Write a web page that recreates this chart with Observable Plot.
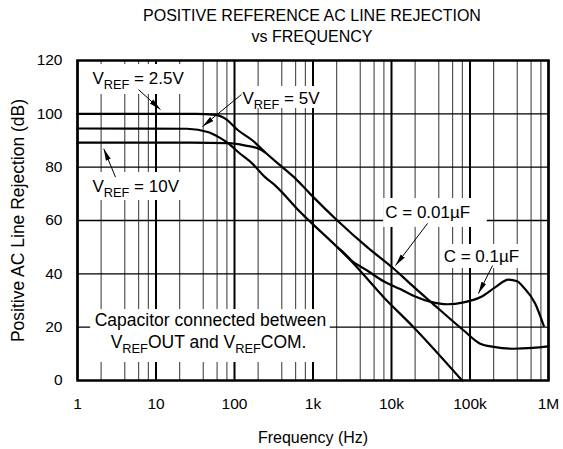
<!DOCTYPE html>
<html><head><meta charset="utf-8">
<script src="https://cdn.jsdelivr.net/npm/d3@7"></script>
<script src="https://cdn.jsdelivr.net/npm/@observablehq/plot@0.6"></script>
<style>
html,body{margin:0;padding:0;background:#fff;}
#title{width:563px;height:45px;box-sizing:border-box;padding-top:5px;padding-left:61px;text-align:center;font-family:"Liberation Sans",Arial,sans-serif;font-size:16px;line-height:21px;color:#000;white-space:nowrap;}
#chart svg{display:block;}
</style></head><body>
<div id="title">POSITIVE REFERENCE AC LINE REJECTION<br>vs FREQUENCY</div>
<div id="chart"></div>
<script>
// ---- data (frequency in Hz, rejection in dB) ----
// VREF = 2.5V curve, continuing as the C = 0.01µF curve
const freqA = [1, 32, 58, 77, 112, 170, 245, 407, 603, 933, 2040, 4900, 10700, 17400, 31600, 83200, 135000, 200000, 355000, 631000, 1000000];
const dbA   = [100, 100, 99.6, 98.1, 93.75, 90, 85.6, 80, 75.6, 69.8, 60, 50, 41.9, 36.25, 29.5, 18.75, 13.8, 12.6, 11.9, 12.2, 12.8];
// VREF = 5V curve, continuing as the straight roll-off to 0 dB
const freqB = [1, 25, 47, 63, 85, 112, 170, 245, 331, 692, 933, 2040, 3020, 7940, 19100, 79400];
const dbB   = [94.5, 94.4, 93.1, 91.25, 88.75, 85.6, 81.25, 76.25, 73.1, 63.1, 59.4, 50, 45, 31.25, 20, 0];
// VREF = 10V curve (joins the 2.5V curve)
const freqC = [1, 28, 85, 138, 204, 245];
const dbC   = [89.2, 89.2, 89.0, 88.1, 86.9, 85.6];
// C = 0.1µF curve (branches from the 5V roll-off)
const freqD = [2040, 2510, 3020, 4900, 7940, 12900, 20000, 31600, 51300, 83200, 135000, 209000, 309000, 398000, 479000, 676000, 871000];
const dbD   = [50, 47.7, 45.3, 41.25, 37.2, 34.3, 31.5, 29.5, 28.6, 29.3, 31.2, 34.9, 37.8, 37.2, 35.0, 28.9, 20.5];

// axes
const majorTicks = [1, 10, 100, 1000, 10000, 100000, 1000000];
const xTickLabels = ["1", "10", "100", "1k", "10k", "100k", "1M"];
const minorTicks = [2,4,6,8, 20,40,60,80, 200,400,600,800, 2000,4000,6000,8000, 20000,40000,60000,80000, 200000,400000,600000,800000];
const yTicks = [0, 20, 40, 60, 80, 100, 120];
const yGrid = [20, 40, 60, 80, 100];

// annotations
const labelText = ["V_REF = 2.5V", "V_REF = 5V", "V_REF = 10V", "C = 0.01µF", "C = 0.1µF"];
const labelX    = [1.55, 126, 1.55, 8320, 46200];
const labelY    = [113.25, 105.6, 72.75, 62.8, 46.5];
const noteText  = ["Capacitor connected between", "V_REFOUT and V_REFCOM."];
const noteX     = [49.4, 46.7];
const noteY     = [22.6, 14.4];
// white label backgrounds
const boxX1 = [1.30, 109.6, 1.30, 7940, 43600, 1.47];
const boxX2 = [27.5, 1175, 27.5, 166000, 479000, 1660];
const boxY1 = [107.25, 102, 67.5, 57.4, 42, 6.75];
const boxY2 = [118.5, 110.25, 78, 68.25, 51, 26.6];
// arrows: tail -> tip
const arrX1 = [5.98, 122.7, 3.05, 28800, 194000];
const arrY1 = [109.1, 107.25, 76.25, 58.9, 43.1];
const arrX2 = [11.4, 39.1, 2.16, 11250, 128000];
const arrY2 = [101.6, 95.25, 86.9, 43.1, 32.6];

const font = "Liberation Sans, Arial, sans-serif";

const chart = Plot.plot({
  width: 563,
  height: 404,
  marginLeft: 77,
  marginRight: 15,
  marginTop: 15,
  marginBottom: 69,
  style: {fontFamily: font, fontSize: "15.5px", color: "#000", background: "#fff", overflow: "visible"},
  x: {type: "log", domain: [1, 1000000], axis: null},
  y: {domain: [0, 120], axis: null},
  marks: [
    Plot.ruleX(minorTicks, {stroke: "#555", strokeWidth: 1.2}),
    Plot.ruleX(majorTicks, {stroke: "#000", strokeWidth: 2}),
    Plot.ruleY(yGrid, {stroke: "#000", strokeWidth: 1.3}),
    Plot.rect(boxX1, {x1: boxX1, x2: boxX2, y1: boxY1, y2: boxY2, fill: "#fff"}),
    Plot.line(dbA, {x: freqA, y: dbA, curve: "monotone-x", stroke: "#000", strokeWidth: 2.2}),
    Plot.line(dbB, {x: freqB, y: dbB, curve: "monotone-x", stroke: "#000", strokeWidth: 2.2}),
    Plot.line(dbC, {x: freqC, y: dbC, curve: "monotone-x", stroke: "#000", strokeWidth: 2.2}),
    Plot.line(dbD, {x: freqD, y: dbD, curve: "monotone-x", stroke: "#000", strokeWidth: 2.2}),
    Plot.link(arrX1, {x1: arrX1, y1: arrY1, x2: arrX2, y2: arrY2, stroke: "#000", strokeWidth: 1, markerEnd: "arrow"}),
    Plot.text(labelText, {x: labelX, y: labelY, text: d => d, textAnchor: "start", fontSize: 17, fill: "#000"}),
    Plot.text(noteText, {x: noteX, y: noteY, text: d => d, textAnchor: "middle", fontSize: 17.5, fill: "#000"}),
    Plot.axisX({ticks: majorTicks, tickFormat: (d) => xTickLabels[majorTicks.indexOf(d)], tickSize: 0, tickPadding: 17, label: null, fontSize: 15.5}),
    Plot.axisY({ticks: yTicks, tickSize: 0, tickPadding: 15, label: null, fontSize: 15.5}),
    Plot.text(["Frequency (Hz)"], {frameAnchor: "bottom", textAnchor: "middle", lineAnchor: "middle", dy: 57, fontSize: 16, fill: "#000"}),
    Plot.text(["Positive AC Line Rejection (dB)"], {frameAnchor: "left", textAnchor: "middle", lineAnchor: "middle", dx: -59, rotate: -90, fontSize: 17.5, fill: "#000"}),
    Plot.frame({stroke: "#000", strokeWidth: 2.5})
  ]
});

document.getElementById("chart").appendChild(chart);

// subscripts "REF"
const ns = "http://www.w3.org/2000/svg";
chart.querySelectorAll("text").forEach(t => {
  const s = t.textContent;
  if (!s.includes("_REF")) return;
  const parts = s.split("_REF");
  t.textContent = "";
  parts.forEach((p, i) => {
    if (i > 0) {
      const sub = document.createElementNS(ns, "tspan");
      sub.setAttribute("font-size", "12.8px");
      sub.setAttribute("dy", "5");
      sub.textContent = "REF";
      t.appendChild(sub);
    }
    const ts = document.createElementNS(ns, "tspan");
    if (i > 0) ts.setAttribute("dy", "-5");
    ts.textContent = p;
    t.appendChild(ts);
  });
});

// filled slender arrow heads
chart.querySelectorAll("marker").forEach(m => {
  m.setAttribute("viewBox", "-12 -4 12 8");
  m.setAttribute("markerWidth", "12");
  m.setAttribute("markerHeight", "8");
  m.setAttribute("markerUnits", "userSpaceOnUse");
  m.setAttribute("refX", "0");
  m.setAttribute("refY", "0");
  while (m.firstChild) m.removeChild(m.firstChild);
  const p = document.createElementNS(ns, "path");
  p.setAttribute("d", "M-12,-2.6L0,0L-12,2.6Z");
  p.setAttribute("fill", "#000");
  p.setAttribute("stroke", "none");
  m.appendChild(p);
});
</script>
</body></html>
